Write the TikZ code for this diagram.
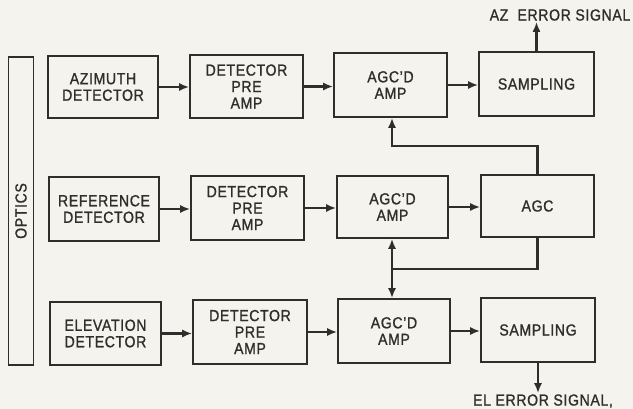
\documentclass[tikz,border=0pt]{standalone}
\usepackage{fontspec}
\setmainfont{Liberation Sans}[FakeBold=1.1,FakeStretch=0.88,LetterSpace=4]
\usetikzlibrary{arrows.meta}
\definecolor{ink}{RGB}{48,46,44}
\definecolor{paper}{RGB}{245,243,237}
\begin{document}
\begin{tikzpicture}[x=1pt,y=-1pt,
  box/.style={draw=ink,line width=1.6pt,rectangle,inner sep=0pt,align=center,
    font=\fontsize{16}{16.5}\selectfont,text=ink},
  lbl/.style={inner sep=1pt,font=\fontsize{16}{16.5}\selectfont,text=ink},
  arr/.style={draw=ink,line width=2.4pt,-{Latex[length=10pt,width=8pt]}},
  darr/.style={draw=ink,line width=2.4pt,{Latex[length=10pt,width=8pt]}-{Latex[length=10pt,width=8pt]}},
  wire/.style={draw=ink,line width=2.4pt}]
\fill[paper] (0,0) rectangle (633,409);
\useasboundingbox (0,0) rectangle (633,409);
% optics bar
\node[box,minimum width=25pt,minimum height=308pt] (opt) at (21,211) {};
\node[lbl,rotate=90] (optl) at (opt.center) {OPTICS};
% row 1
\node[box,minimum width=110pt,minimum height=62pt] (az) at (103,87) {AZIMUTH\\DETECTOR};
\node[box,minimum width=113pt,minimum height=63pt] (pa1) at (246.5,86.5) {DETECTOR\\PRE\\AMP};
\node[box,minimum width=113pt,minimum height=64pt] (agc1) at (390.5,85) {AGC'D\\AMP};
\node[box,minimum width=115pt,minimum height=64pt] (s1) at (536.5,84) {SAMPLING};
% row 2
\node[box,minimum width=110pt,minimum height=64pt] (ref) at (104,209) {REFERENCE\\DETECTOR};
\node[box,minimum width=113pt,minimum height=64pt] (pa2) at (247.5,208) {DETECTOR\\PRE\\AMP};
\node[box,minimum width=111pt,minimum height=62pt] (agc2) at (392.5,207) {AGC'D\\AMP};
\node[box,minimum width=113pt,minimum height=62pt] (agc) at (537.5,206) {AGC};
% row 3
\node[box,minimum width=111pt,minimum height=63pt] (el) at (105.5,333.5) {ELEVATION\\DETECTOR};
\node[box,minimum width=114pt,minimum height=64pt] (pa3) at (250,332) {DETECTOR\\PRE\\AMP};
\node[box,minimum width=112pt,minimum height=64pt] (agc3) at (394,331) {AGC'D\\AMP};
\node[box,minimum width=114pt,minimum height=64pt] (s3) at (538,330) {SAMPLING};
% signal labels
\node[lbl] (azs) at (560,15) {AZ\ \ ERROR SIGNAL};
\node[lbl] (els) at (543,401) {EL ERROR SIGNAL,};
% horizontal arrows
\foreach \a/\b in {az/pa1,pa1/agc1,agc1/s1,ref/pa2,pa2/agc2,agc2/agc,el/pa3,pa3/agc3,agc3/s3}
  \draw[arr] (\a.east) -- (\a.east -| \b.west);
% outputs
\draw[arr] (s1.north) -- (s1.north |- azs.south);
\draw[arr] (s3.south) -- (s3.south |- els.north);
% AGC feedback
\coordinate (fb) at (392,146);
\draw[arr] (agc.north) |- (fb) -- (fb |- agc1.south);
\coordinate (jn) at (392,269);
\draw[wire] (agc.south) |- (jn);
\draw[darr] (jn |- agc2.south) -- (jn |- agc3.north);
\end{tikzpicture}
\end{document}
